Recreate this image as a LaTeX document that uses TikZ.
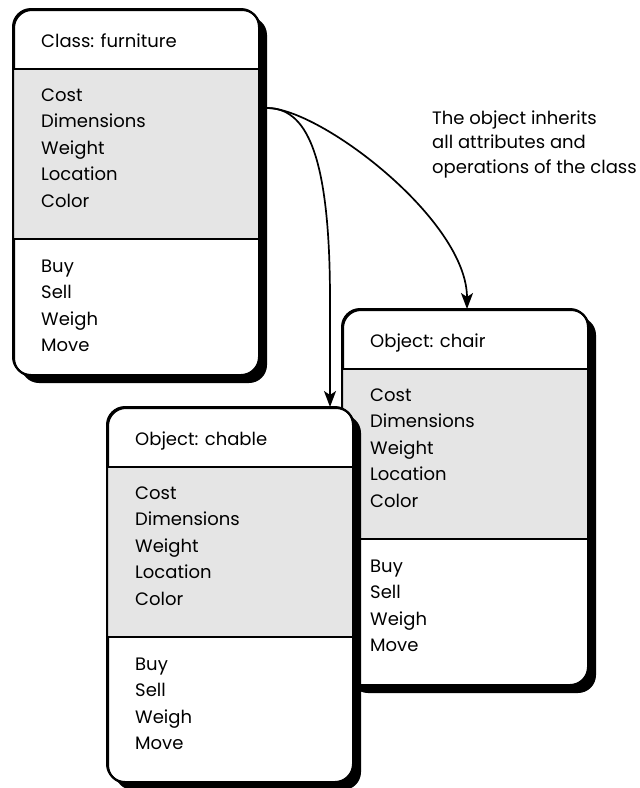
\documentclass[tikz,border=0pt]{standalone}
\usepackage{fontspec}
\setmainfont{Poppins}
\usetikzlibrary{arrows.meta}
\tikzset{
  boxborder/.style={draw=black, line width=2pt, fill=white, rounded corners=18pt, inner sep=0pt, anchor=north west, minimum width=246pt},
  shadowfill/.style={fill=black, rounded corners=18pt},
  attrband/.style={fill=black!10},
  divider/.style={draw=black, line width=2pt},
  boxtext/.style={anchor=north west, align=left, inner sep=0pt, font=\fontsize{18}{26.5}\selectfont},
  arr/.style={draw=black, line width=1.7pt, -{Stealth[length=16pt,width=12pt,inset=4pt]}},
}
% #1 name, #2 left, #3 top, #4 height, #5 title
\newcommand{\classbox}[5]{%
  \fill[shadowfill] (#2+8,#3+8) rectangle (#2+254,#3+#4+8);
  \node[boxborder, minimum height=#4pt] (#1) at (#2,#3) {};
  \fill[attrband] (#2+1,#3+60) rectangle (#2+245,#3+230);
  \draw[divider] (#2,#3+60) -- (#2+246,#3+60);
  \draw[divider] (#2,#3+230) -- (#2+246,#3+230);
  \draw[black, line width=2pt, rounded corners=18pt] (#2,#3) rectangle (#2+246,#3+#4);
  \node[boxtext] (#1-title) at (#2+28,#3+25) {#5};
  \node[boxtext] (#1-attr) at (#2+28,#3+79.5) {Cost\\Dimensions\\Weight\\Location\\Color};
  \node[boxtext] (#1-ops) at (#2+28,#3+250.5) {Buy\\Sell\\Weigh\\Move};
}
\begin{document}
\begin{tikzpicture}[x=1pt,y=-1pt]
  \useasboundingbox (0,0) rectangle (640,788);
  \classbox{furn}{13}{9}{366}{Class: furniture}
  \classbox{chair}{342}{309}{376}{Object: chair}
  \classbox{chable}{107}{407}{375}{Object: chable}
  \coordinate (src) at (267,108);
  \coordinate (bend) at (330,300);
  \draw[arr] (src) .. controls (305,108) and (330,150) .. (bend) -- (330,0 |- chable.north);
  \draw[arr] (src) .. controls (320,108) and (467,220) .. (467,0 |- chair.north);
  \node[boxtext, font=\fontsize{18}{24.5}\selectfont] (note) at (432,110.5) {The object inherits\\all attributes and\\operations of the class};
\end{tikzpicture}
\end{document}
